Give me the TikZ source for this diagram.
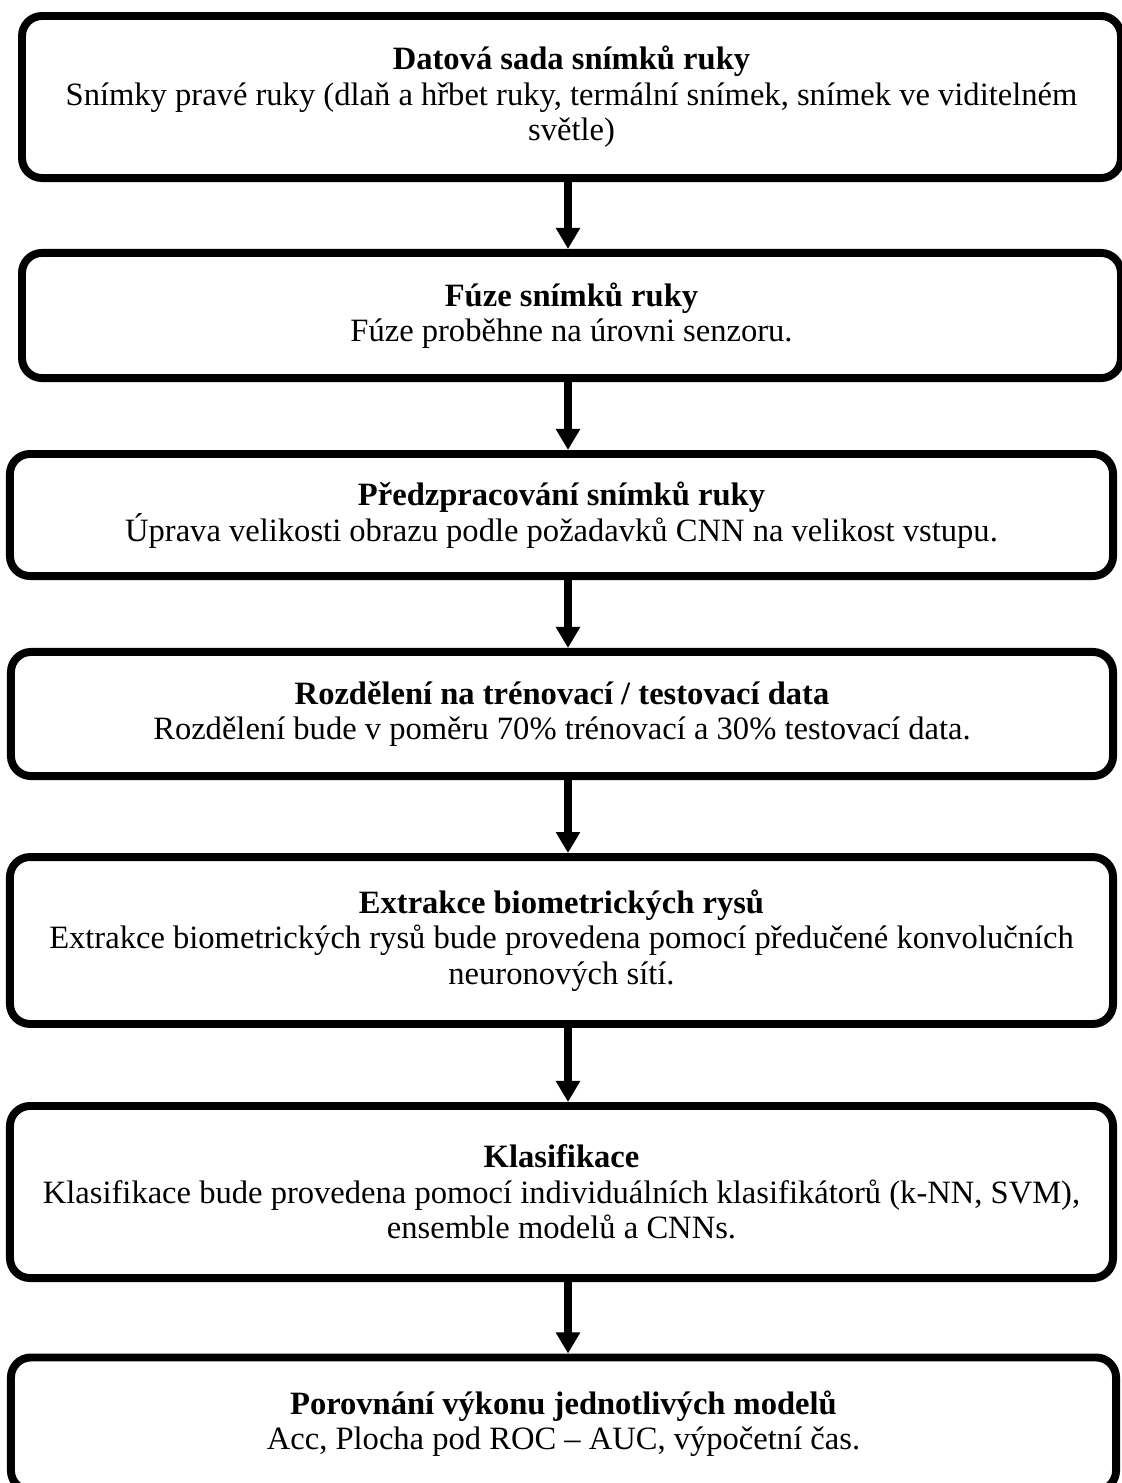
\documentclass[tikz,border=0pt]{standalone}
\usepackage{fontspec}
\setmainfont{Liberation Serif}
\usetikzlibrary{arrows.meta}

\begin{document}
\begin{tikzpicture}[
    x=0.39pt, y=-0.39pt,
    stage/.style={rectangle, draw, line width=3.1pt, rounded corners=7.8pt, align=center,
        font=\fontsize{12.7pt}{13.8pt}\selectfont, inner sep=0pt},
    flow/.style={line width=3.1pt, -{Triangle[length=8.2pt, width=9pt]}}
]
\useasboundingbox (0,0) rectangle (1121,1483);

% Stages
\node[stage, minimum width=428.6pt, minimum height=63.2pt] (data) at (571.5, 97)
    {\textbf{Datová sada snímků ruky}\\Snímky pravé ruky (dlaň a hřbet ruky, termální snímek, snímek ve viditelném\\světle)};
\node[stage, minimum width=428.6pt, minimum height=48.8pt] (fuse) at (571.5, 315.5)
    {\textbf{Fúze snímků ruky}\\Fúze proběhne na úrovni senzoru.};
\node[stage, minimum width=430.2pt, minimum height=47.6pt] (prep) at (561.5, 515)
    {\textbf{Předzpracování snímků ruky}\\Úprava velikosti obrazu podle požadavků CNN na velikost vstupu.};
\node[stage, minimum width=429.8pt, minimum height=48.4pt] (split) at (562, 714)
    {\textbf{Rozdělení na trénovací / testovací data}\\Rozdělení bude v poměru 70\% trénovací a 30\% testovací data.};
\node[stage, minimum width=430.2pt, minimum height=65.1pt] (feat) at (561.5, 940.5)
    {\textbf{Extrakce biometrických rysů}\\Extrakce biometrických rysů bude provedena pomocí předučené konvolučních\\neuronových sítí.};
\node[stage, minimum width=430.2pt, minimum height=67.1pt] (clf) at (561.5, 1192)
    {\textbf{Klasifikace}\\Klasifikace bude provedena pomocí individuálních klasifikátorů (k-NN, SVM),\\ensemble modelů a CNNs.};
\node[stage, minimum width=431pt, minimum height=51.9pt] (eval) at (563.5, 1424)
    {\textbf{Porovnání výkonu jednotlivých modelů}\\Acc, Plocha pod ROC – AUC, výpočetní čas.};

% Arrows
\coordinate (axis) at (568, 0);
\draw[flow] (data.south -| axis) -- (fuse.north -| axis);
\draw[flow] (fuse.south -| axis) -- (prep.north -| axis);
\draw[flow] (prep.south -| axis) -- (split.north -| axis);
\draw[flow] (split.south -| axis) -- (feat.north -| axis);
\draw[flow] (feat.south -| axis) -- (clf.north -| axis);
\draw[flow] (clf.south -| axis) -- (eval.north -| axis);
\end{tikzpicture}
\end{document}
